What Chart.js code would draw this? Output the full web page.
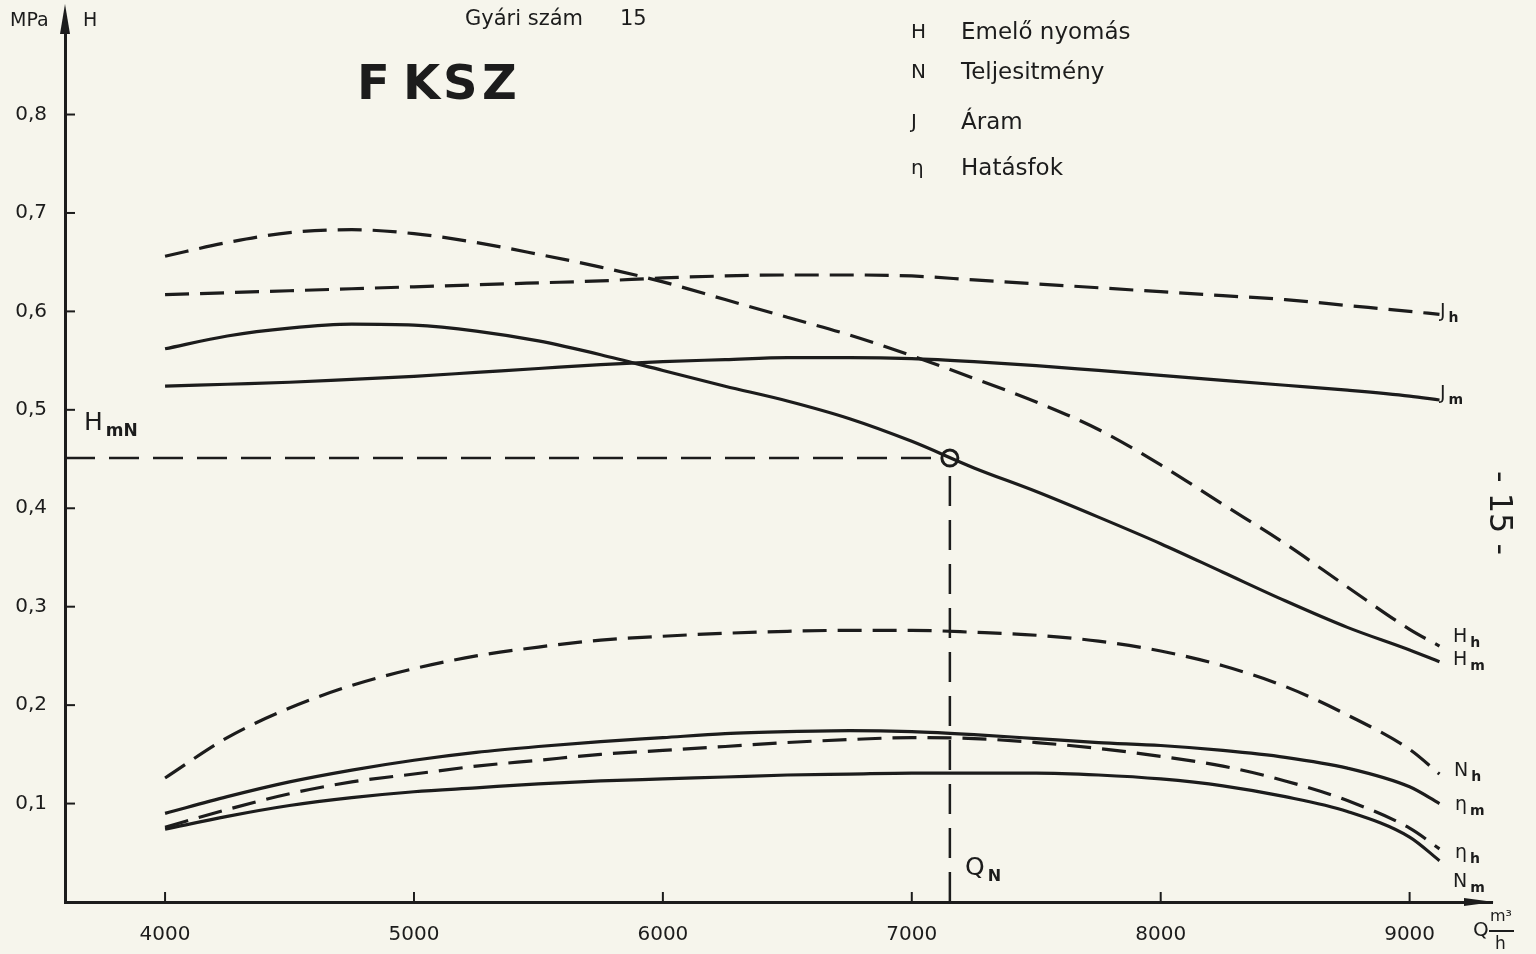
<!DOCTYPE html>
<html>
<head>
<meta charset="utf-8">
<script src="https://cdn.jsdelivr.net/npm/chart.js@4.4.0/dist/chart.umd.min.js"></script>
<style>
  html, body { margin: 0; padding: 0; background: #f6f5ec; }
  canvas { display: block; }
</style>
</head>
<body>
<canvas id="chart" width="1536" height="954"></canvas>
<script>
// ===== Data =====
const qValues = [4000, 4250, 4500, 4750, 5000, 5250, 5500, 5750, 6000, 6250, 6500, 6750, 7000, 7250, 7500, 7750, 8000, 8250, 8500, 8750, 9000, 9120];

const hH   = [0.656, 0.670, 0.680, 0.683, 0.679, 0.670, 0.658, 0.645, 0.630, 0.612, 0.594, 0.576, 0.555, 0.532, 0.508, 0.480, 0.444, 0.404, 0.364, 0.320, 0.277, 0.260];
const hM   = [0.562, 0.575, 0.583, 0.587, 0.586, 0.580, 0.570, 0.556, 0.540, 0.524, 0.509, 0.491, 0.468, 0.441, 0.417, 0.391, 0.364, 0.335, 0.306, 0.279, 0.256, 0.244];
const jH   = [0.617, 0.619, 0.621, 0.623, 0.625, 0.627, 0.629, 0.631, 0.634, 0.636, 0.637, 0.637, 0.636, 0.632, 0.628, 0.624, 0.620, 0.616, 0.612, 0.606, 0.600, 0.597];
const jM   = [0.524, 0.526, 0.528, 0.531, 0.534, 0.538, 0.542, 0.546, 0.549, 0.551, 0.553, 0.553, 0.552, 0.549, 0.545, 0.540, 0.535, 0.530, 0.525, 0.520, 0.514, 0.510];
const nH   = [0.126, 0.167, 0.197, 0.220, 0.237, 0.250, 0.259, 0.266, 0.270, 0.273, 0.275, 0.276, 0.276, 0.274, 0.271, 0.265, 0.255, 0.240, 0.219, 0.190, 0.155, 0.130];
const etaM = [0.090, 0.107, 0.122, 0.134, 0.144, 0.152, 0.158, 0.163, 0.167, 0.171, 0.173, 0.174, 0.173, 0.170, 0.166, 0.162, 0.159, 0.154, 0.147, 0.136, 0.117, 0.100];
const etaH = [0.076, 0.094, 0.110, 0.122, 0.130, 0.138, 0.144, 0.150, 0.154, 0.158, 0.162, 0.165, 0.167, 0.166, 0.162, 0.156, 0.148, 0.138, 0.123, 0.103, 0.075, 0.054];
const nM   = [0.074, 0.087, 0.098, 0.106, 0.112, 0.116, 0.120, 0.123, 0.125, 0.127, 0.129, 0.130, 0.131, 0.131, 0.131, 0.129, 0.125, 0.118, 0.107, 0.092, 0.066, 0.042];

const qN = 7153;   // nominal flow
const hmN = 0.451; // nominal head

const xTicks = [4000, 5000, 6000, 7000, 8000, 9000];
const yTicks = [0.1, 0.2, 0.3, 0.4, 0.5, 0.6, 0.7, 0.8];

const ink = "#1c1c1c";
const paper = "#f6f5ec";
const font = "DejaVu Sans";
const dash = [24, 11];

function pts(ys) {
  return qValues.map((q, i) => ({ x: q, y: ys[i] }));
}

function curve(ys, dashed) {
  return {
    data: pts(ys),
    borderColor: ink,
    borderWidth: 3.2,
    borderDash: dashed ? dash : [],
    pointRadius: 0,
    tension: 0.4,
    cubicInterpolationMode: "monotone",
    fill: false
  };
}

// ===== Decorations: inner ticks, arrows, texts =====
const decor = {
  id: "decor",
  beforeDraw(chart) {
    const ctx = chart.ctx;
    ctx.save();
    ctx.fillStyle = paper;
    ctx.fillRect(0, 0, chart.width, chart.height);
    ctx.restore();
  },
  afterDraw(chart) {
    const { ctx, scales: { x, y }, chartArea: a } = chart;
    ctx.save();
    ctx.strokeStyle = ink;
    ctx.fillStyle = ink;
    ctx.lineWidth = 2;

    xTicks.forEach(v => {
      const px = x.getPixelForValue(v);
      ctx.beginPath(); ctx.moveTo(px, a.bottom); ctx.lineTo(px, a.bottom - 10); ctx.stroke();
    });
    yTicks.forEach(v => {
      const py = y.getPixelForValue(v);
      ctx.beginPath(); ctx.moveTo(a.left, py); ctx.lineTo(a.left + 10, py); ctx.stroke();
    });

    // arrow heads
    ctx.beginPath();
    ctx.moveTo(a.left, 4); ctx.lineTo(a.left - 5, 34); ctx.lineTo(a.left + 5, 34); ctx.closePath(); ctx.fill();
    ctx.beginPath();
    ctx.moveTo(a.right + 2, a.bottom); ctx.lineTo(a.right - 28, a.bottom - 4); ctx.lineTo(a.right - 28, a.bottom + 4); ctx.closePath(); ctx.fill();

    ctx.textBaseline = "middle";
    ctx.textAlign = "left";

    function txt(s, px, py, size, weight) {
      ctx.font = (weight || "normal") + " " + size + "px '" + font + "'";
      ctx.fillText(s, px, py);
    }
    function sub(main, s, px, py, size, subSize) {
      size = size || 19;
      subSize = subSize || 14;
      txt(main, px, py, size);
      ctx.font = size + "px '" + font + "'";
      const mw = ctx.measureText(main).width;
      txt(s, px + mw + 3, py + size * 0.35, subSize, "bold");
    }

    // axis titles
    txt("MPa", 10, 21, 19);
    txt("H", 83, 21, 19);
    txt("Q", 1473, 931, 20);
    txt("m³", 1490, 917, 16);
    txt("h", 1495, 945, 17);
    ctx.lineWidth = 2;
    ctx.beginPath(); ctx.moveTo(1489, 931); ctx.lineTo(1514, 931); ctx.stroke();

    // header
    txt("Gyári szám", 465, 20, 21);
    txt("15", 620, 20, 21);
    [["F", 357], ["K", 403], ["S", 443], ["Z", 482]].forEach(([c, px]) => txt(c, px, 87, 48, "bold"));

    // legend
    const legend = [["H", "Emelő nyomás", 33], ["N", "Teljesitmény", 73], ["J", "Áram", 123], ["η", "Hatásfok", 169]];
    legend.forEach(([s, t, py]) => {
      txt(s, 911, py, 20);
      txt(t, 961, py, 23);
    });

    // curve labels
    sub("J", "h", 1440, 312);
    sub("J", "m", 1440, 394);
    sub("H", "h", 1453, 637);
    sub("H", "m", 1453, 660);
    sub("N", "h", 1454, 771);
    sub("η", "m", 1455, 805);
    sub("η", "h", 1455, 853);
    sub("N", "m", 1453, 882);
    sub("H", "mN", 84, 423, 25, 17);
    sub("Q", "N", 965, 868, 25, 16);

    // page number, vertical
    ctx.save();
    ctx.translate(1498, 513);
    ctx.rotate(Math.PI / 2);
    ctx.textAlign = "center";
    txt("- 15 -", 0, 0, 32);
    ctx.restore();

    ctx.restore();
  }
};

const ctx = document.getElementById("chart").getContext("2d");

new Chart(ctx, {
  type: "line",
  data: {
    datasets: [
      curve(hH, true),
      curve(hM, false),
      curve(jH, true),
      curve(jM, false),
      curve(nH, true),
      curve(etaM, false),
      curve(etaH, true),
      curve(nM, false),
      {
        data: [{ x: 3598, y: hmN }, { x: qN - 45, y: hmN }],
        borderColor: ink, borderWidth: 2.5, borderDash: [30, 14], pointRadius: 0
      },
      {
        data: [{ x: qN, y: 0 }, { x: qN, y: hmN - 0.012 }],
        borderColor: ink, borderWidth: 2.5, borderDash: [30, 14], pointRadius: 0
      },
      {
        data: [{ x: qN, y: hmN }],
        showLine: false,
        pointRadius: 8,
        pointBorderWidth: 3,
        pointBorderColor: ink,
        pointBackgroundColor: paper
      }
    ]
  },
  options: {
    responsive: false,
    animation: false,
    layout: { padding: { top: 8, right: 44, left: 0, bottom: 0 } },
    plugins: { legend: { display: false }, tooltip: { enabled: false } },
    scales: {
      x: {
        type: "linear",
        min: 3598,
        max: 9331,
        afterBuildTicks: s => { s.ticks = xTicks.map(v => ({ value: v })); },
        afterFit: s => { s.height = 52; },
        grid: { display: false },
        border: { display: true, color: ink, width: 3 },
        ticks: {
          color: ink,
          padding: 13,
          maxRotation: 0,
          autoSkip: false,
          font: { family: font, size: 20 },
          callback: v => String(v)
        }
      },
      y: {
        type: "linear",
        min: 0,
        max: 0.894,
        afterBuildTicks: s => { s.ticks = yTicks.map(v => ({ value: v })); },
        afterFit: s => { s.width = 65; },
        grid: { display: false },
        border: { display: true, color: ink, width: 3 },
        ticks: {
          color: ink,
          padding: 10,
          autoSkip: false,
          font: { family: font, size: 20 },
          callback: v => v.toFixed(1).replace(".", ",")
        }
      }
    }
  },
  plugins: [decor]
});
</script>
</body>
</html>
